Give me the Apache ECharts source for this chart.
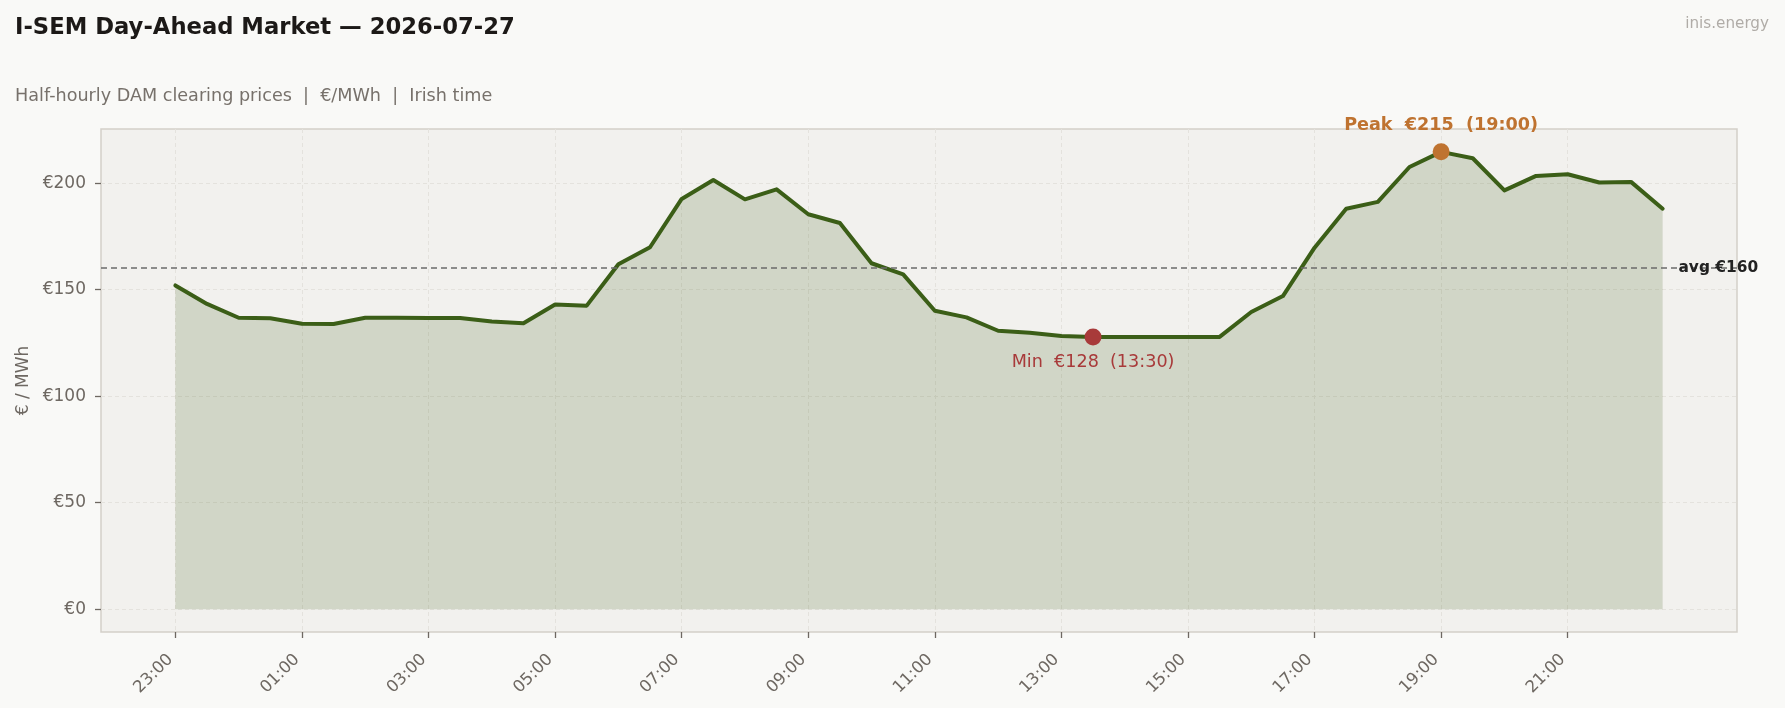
<!DOCTYPE html>
<html>
<head>
<meta charset="utf-8">
<title>I-SEM Day-Ahead Market — 2026-07-27</title>
<script src="https://cdn.jsdelivr.net/npm/echarts@6.0.0/dist/echarts.min.js"></script>
<style>
  html, body { margin: 0; padding: 0; background: #f9f9f7; }
  #chart { width: 1785px; height: 708px; }
</style>
</head>
<body>
<div id="chart"></div>
<script>
// ------------------------------------------------------------------
// data: half-hourly DAM clearing prices (€/MWh), trading day 23:00 -> 22:30
// ------------------------------------------------------------------
const slots = [
  '23:00', '23:30', '00:00', '00:30', '01:00', '01:30', '02:00', '02:30',
  '03:00', '03:30', '04:00', '04:30', '05:00', '05:30', '06:00', '06:30',
  '07:00', '07:30', '08:00', '08:30', '09:00', '09:30', '10:00', '10:30',
  '11:00', '11:30', '12:00', '12:30', '13:00', '13:30', '14:00', '14:30',
  '15:00', '15:30', '16:00', '16:30', '17:00', '17:30', '18:00', '18:30',
  '19:00', '19:30', '20:00', '20:30', '21:00', '21:30', '22:00', '22:30',
]
const prices = [
  152.0, 143.3, 136.8, 136.6, 134.0, 133.9, 136.8, 136.8,
  136.7, 136.7, 135.0, 134.2, 143.0, 142.5, 161.9, 169.9,
  192.6, 201.5, 192.4, 197.1, 185.4, 181.3, 162.4, 157.2,
  140.1, 137.0, 130.7, 129.8, 128.2, 127.8, 127.8, 127.8,
  127.8, 127.8, 139.5, 147.0, 169.7, 188.0, 191.2, 207.6,
  214.7, 211.7, 196.6, 203.4, 204.2, 200.3, 200.6, 188.0,
]
const xTickLabels = ['23:00', '01:00', '03:00', '05:00', '07:00', '09:00',
  '11:00', '13:00', '15:00', '17:00', '19:00', '21:00']
const yTickValues = [0, 50, 100, 150, 200]
const avgPrice = 160.4

// ------------------------------------------------------------------
// derived bits
// ------------------------------------------------------------------
const seriesData = prices.map((p, i) => [i, p])
const xTickValues = xTickLabels.map((t) => slots.indexOf(t))
const peakVal = Math.max(...prices)
const peakIdx = prices.indexOf(peakVal)
const minVal = Math.min(...prices)
const minIdx = prices.indexOf(minVal)

// matplotlib-style 5% margins
const xPad = (prices.length - 1) * 0.05
const yPad = peakVal * 0.05

const FONT = 'DejaVu Sans'
const textGrey = '#6e6862'
const gridLine = { color: '#e4e2dd', type: [4, 3], width: 1 }

const chart = echarts.init(document.getElementById('chart'), null, { renderer: 'canvas' })

chart.setOption({
  animation: false,
  backgroundColor: '#f9f9f7',
  textStyle: { fontFamily: FONT },
  title: [
    {
      text: 'I-SEM Day-Ahead Market — 2026-07-27',
      left: 15,
      top: 16.5,
      padding: 0,
      textStyle: { fontFamily: FONT, fontSize: 22.7, fontWeight: 'bold', color: '#1c1917' },
    },
    {
      text: 'Half-hourly DAM clearing prices  |  €/MWh  |  Irish time',
      left: 15,
      top: 87.5,
      padding: 0,
      textStyle: { fontFamily: FONT, fontSize: 17.6, fontWeight: 'normal', color: '#77716b' },
    },
    {
      text: 'inis.energy',
      right: 16,
      top: 17,
      padding: 0,
      textStyle: { fontFamily: FONT, fontSize: 15.2, fontWeight: 'normal', color: '#b0aca7' },
    },
  ],
  grid: {
    left: 101,
    right: 48,
    top: 129,
    bottom: 76,
    show: true,
    backgroundColor: '#f2f1ee',
    borderColor: '#d3cfc9',
    borderWidth: 1.5,
    outerBoundsMode: 'none',
  },
  xAxis: {
    type: 'value',
    min: -xPad,
    max: prices.length - 1 + xPad,
    axisLine: { show: false, onZero: false },
    axisTick: {
      show: true,
      length: 6,
      customValues: xTickValues,
      lineStyle: { color: textGrey, width: 1.3 },
    },
    axisLabel: {
      customValues: xTickValues,
      rotate: 45,
      margin: 20,
      padding: [0, 7, 0, 0],
      fontSize: 16.5,
      color: textGrey,
      fontFamily: FONT,
      formatter: (v) => slots[v] || '',
    },
    splitLine: { show: true, lineStyle: gridLine },
  },
  yAxis: {
    type: 'value',
    min: -yPad,
    max: peakVal + yPad,
    name: '€ / MWh',
    nameLocation: 'middle',
    nameGap: 68,
    nameTextStyle: { fontFamily: FONT, fontSize: 17, color: textGrey },
    axisLine: { show: false, onZero: false },
    axisTick: {
      show: true,
      length: 6,
      customValues: yTickValues,
      lineStyle: { color: textGrey, width: 1.3 },
    },
    axisLabel: {
      customValues: yTickValues,
      margin: 15,
      fontSize: 17,
      color: textGrey,
      fontFamily: FONT,
      formatter: (v) => '€' + Math.round(v),
    },
    splitLine: { show: true, lineStyle: gridLine },
  },
  series: [
    {
      name: 'DAM price',
      type: 'line',
      data: seriesData,
      showSymbol: false,
      symbol: 'none',
      lineStyle: { color: '#3b5e17', width: 4, join: 'round', cap: 'round' },
      areaStyle: { color: 'rgba(59, 94, 23, 0.18)', opacity: 1, origin: 'auto' },
      markLine: {
        silent: true,
        symbol: 'none',
        label: { show: false },
        lineStyle: { color: '#6b6b6b', type: [6, 4], width: 1.5 },
        data: [{ yAxis: avgPrice }],
      },
      markPoint: {
        silent: true,
        data: [
          {
            coord: [peakIdx, peakVal],
            symbol: 'circle',
            symbolSize: 17,
            itemStyle: { color: '#bf7330' },
            label: {
              show: true,
              position: 'top',
              distance: 9,
              formatter: `Peak  €${Math.round(peakVal)}  (${slots[peakIdx]})`,
              fontFamily: FONT,
              fontSize: 17.6,
              fontWeight: 'bold',
              color: '#bf7330',
            },
          },
          {
            coord: [minIdx, minVal],
            symbol: 'circle',
            symbolSize: 17,
            itemStyle: { color: '#a83a3a' },
            label: {
              show: true,
              position: 'bottom',
              distance: 8,
              formatter: `Min  €${Math.round(minVal)}  (${slots[minIdx]})`,
              fontFamily: FONT,
              fontSize: 17.6,
              fontWeight: 'normal',
              color: '#a83a3a',
            },
          },
          {
            coord: [prices.length - 0.5, avgPrice],
            symbol: 'circle',
            symbolSize: 0,
            label: {
              show: true,
              position: 'right',
              distance: 0,
              formatter: `avg €${Math.round(avgPrice)}`,
              fontFamily: FONT,
              fontSize: 15.4,
              fontWeight: 'bold',
              color: '#222222',
            },
          },
        ],
      },
    },
  ],
})

window.addEventListener('resize', () => chart.resize())
</script>
</body>
</html>
